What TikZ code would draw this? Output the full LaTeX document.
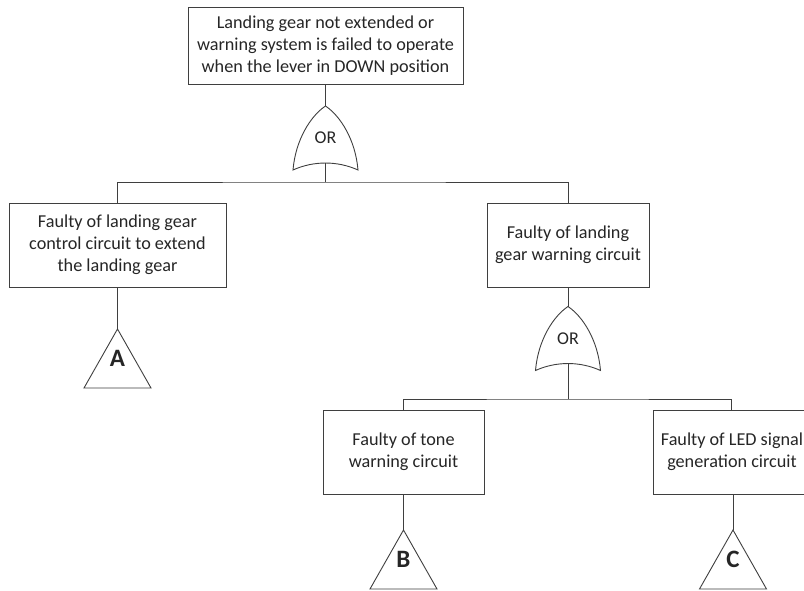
\documentclass[tikz,border=0pt]{standalone}
\usepackage{fontspec}
\setmainfont{Carlito}
\definecolor{linegray}{HTML}{3F3F3F}
\definecolor{textgray}{HTML}{262626}
\begin{document}
\begin{tikzpicture}[x=1pt,y=-1pt,
  line/.style={draw=linegray, line width=0.9pt},
  label text/.style={align=center, inner sep=0pt, text=textgray,
    font=\fontsize{18.2}{21.8}\selectfont},
  event/.style={line, fill=white, label text, minimum height=84pt},
  orgate/.pic={
    \draw[line, fill=white] (-32.5,32) .. controls (-30,2) and (-15,-22) .. (0,-32)
      .. controls (15,-22) and (30,2) .. (32.5,32)
      .. controls (12,22.7) and (-12,22.7) .. cycle;
    \node[text=textgray, inner sep=0pt, font=\fontsize{18}{20}\selectfont] at (0,0) {OR};
    \coordinate (-in) at (0,-32);
    \coordinate (-out) at (0,25);
  },
  transfer/.pic={
    \draw[line, fill=white] (0,0) -- (33.5,59) -- (-33.5,59) -- cycle;
    \node[text=textgray, inner sep=0pt, font=\fontsize{25}{28}\bfseries] at (0,29) {\tikzpictext};
    \coordinate (-in) at (0,0);
  }]
\clip (0,0) rectangle (804,591);

% top event
\node[event, minimum width=275pt, minimum height=77pt] (top) at (325.5,45.5)
  {Landing gear not extended or\\warning system is failed to operate\\when the lever in DOWN position};
\pic (g1) at (325.5,138) {orgate};
\coordinate (j1) at (325.5,182);

% second level
\node[event, minimum width=217pt] (ctrl) at (117.5,245)
  {Faulty of landing gear\\control circuit to extend\\the landing gear};
\node[event, minimum width=162pt] (warn) at (568,245)
  {Faulty of landing\\gear warning circuit};
\pic (g2) at (568,338.5) {orgate};
\coordinate (j2) at (568,399);

% third level
\node[event, minimum width=161pt] (tone) at (403.5,452)
  {Faulty of tone\\warning circuit};
\node[event, minimum width=164pt] (led) at (735,452) {};
\node[label text] (ledtext) at (732,452)
  {Faulty of LED signal\\generation circuit};

% transfer symbols
\pic[pic text=A] (tA) at (117.5,329) {transfer};
\pic[pic text=B] (tB) at (403.5,530) {transfer};
\pic[pic text=C] (tC) at (733,530) {transfer};

% connectors
\draw[line] (top.south) -- (g1-in);
\draw[line] (g1-out) -- (j1);
\draw[line] (ctrl.north) |- (j1) -| (warn.north);
\draw[line] (ctrl.south) -- (tA-in);
\draw[line] (warn.south) -- (g2-in);
\draw[line] (g2-out) -- (j2);
\draw[line] (tone.north) |- (j2) -| ([xshift=-4pt]led.north);
\draw[line] (tone.south) -- (tB-in);
\draw[line] ([xshift=-2pt]led.south) -- (tC-in);
\end{tikzpicture}
\end{document}
